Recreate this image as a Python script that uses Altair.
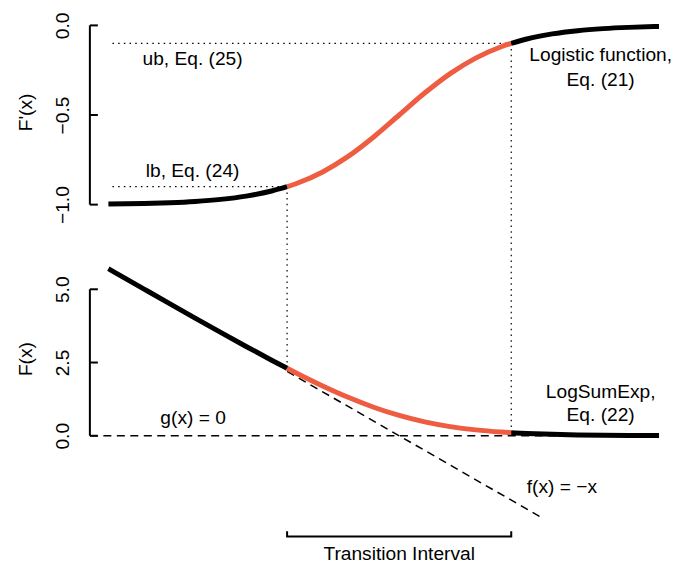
import altair as alt
import pandas as pd

# ---- data ----
X_LEFT = [-5.7, -5.0, -4.5, -4.0, -3.5, -3.0, -2.5, -2.197]
X_MID = [-2.197, -2.0, -1.5, -1.0, -0.5, 0.0, 0.5, 1.0, 1.5, 2.0, 2.197]
X_RIGHT = [2.197, 2.5, 3.0, 3.5, 4.0, 4.5, 5.0, 5.2]

DF_LEFT = [-0.9967, -0.9933, -0.9890, -0.9820, -0.9707, -0.9526, -0.9241, -0.9]
DF_MID = [-0.9, -0.8808, -0.8176, -0.7311, -0.6225, -0.5, -0.3775, -0.2689, -0.1824, -0.1192, -0.1]
DF_RIGHT = [-0.1, -0.0759, -0.0474, -0.0293, -0.0180, -0.0110, -0.0067, -0.0055]

F_LEFT = [5.703, 5.007, 4.511, 4.018, 3.530, 3.049, 2.579, 2.303]
F_MID = [2.303, 2.127, 1.701, 1.313, 0.974, 0.693, 0.474, 0.313, 0.201, 0.127, 0.105]
F_RIGHT = [0.105, 0.079, 0.049, 0.030, 0.018, 0.011, 0.007, 0.0055]

LB, UB = -0.9, -0.1
X_LB, X_UB = -2.197, 2.197
F_AT_LB, F_AT_UB = 2.303, 0.105
BOUND_LINE_START = -5.62

FX_X = [-2.197, 2.83]
FX_Y = [2.197, -2.83]
GX_X = [-6.063, 5.2]
GX_Y = [0.0, 0.0]

BRACKET_X = [-2.197, 2.197]
BRACKET_Y = -3.44
BRACKET_TOP = -3.26

TOP_TICKS = [-1.0, -0.5, 0.0]
BOT_TICKS = [0.0, 2.5, 5.0]

TOP_TEXT = ["ub, Eq. (25)", "lb, Eq. (24)", "Logistic function,", "Eq. (21)"]
TOP_TX = [-4.05, -4.05, 3.95, 3.95]
TOP_TY = [-0.19, -0.81, -0.168, -0.307]

BOT_TEXT = ["g(x) = 0", "LogSumExp,", "Eq. (22)", "f(x) = \u2212x", "Transition Interval"]
BOT_TX = [-4.04, 3.95, 3.95, 3.19, 0.0]
BOT_TY = [0.614, 1.50, 0.716, -1.74, -4.02]

# ---- styling ----
RED = "#EE5C42"
FONT = "Liberation Sans"
FS = 19.2
PX_PER_X = 51.09
W = 570
H_TOP = 240
H_BOT = 304
XDOM = [-6.063, -6.063 + W / PX_PER_X]
TOP_DOM = [-1.2535, 0.0836]
BOT_DOM = [-4.022, 6.339]

xs = alt.Scale(domain=XDOM, nice=False, zero=False)


def X(field="x"):
    return alt.X(f"{field}:Q", scale=xs, axis=None)


def make_y(field, dom, ticks, title, title_y):
    return alt.Y(
        f"{field}:Q",
        scale=alt.Scale(domain=dom, nice=False, zero=False),
        axis=alt.Axis(
            values=ticks, format=".1f", ticks=False, domain=False, grid=False,
            labelAngle=270, labelAlign="center", labelBaseline="middle",
            labelPadding=27, labelFont=FONT, labelFontSize=FS, labelColor="black",
            title=title, titleFont=FONT, titleFontSize=FS, titleFontWeight="normal",
            titleColor="black", titleAngle=270, titleAlign="center",
            titleBaseline="middle", titleX=-64, titleY=title_y,
        ),
    )


def panel(curves, dom, ticks, title, title_y, height, extra):
    Y = lambda f="y": make_y(f, dom, ticks, title, title_y)
    layers = []
    for e in extra:
        layers.append(e(Y))
    for xv, yv, col in curves:
        d = pd.DataFrame({"x": xv, "y": yv})
        layers.append(
            alt.Chart(d).mark_line(color=col, strokeWidth=5, interpolate="monotone", clip=True)
            .encode(x=X(), y=Y())
        )
    # axis line and inward ticks
    axd = pd.DataFrame({"y": [min(ticks)], "y2": [max(ticks)]})
    layers.append(
        alt.Chart(axd).mark_rule(color="black", strokeWidth=2)
        .encode(x=alt.value(0), y=Y(), y2="y2:Q")
    )
    tkd = pd.DataFrame({"y": ticks})
    layers.append(
        alt.Chart(tkd).mark_rule(color="black", strokeWidth=2)
        .encode(x=alt.value(0), x2=alt.value(8), y=Y())
    )
    return alt.layer(*layers).properties(width=W, height=height)


DOT = [1.5, 4.2]
DASH = [8, 5.5]


def top_extra_h(Y):
    d = pd.DataFrame({"x": [BOUND_LINE_START, BOUND_LINE_START], "x2": [X_LB, X_UB], "y": [LB, UB]})
    return alt.Chart(d).mark_rule(color="black", strokeWidth=1.2, strokeDash=DOT).encode(
        x=X(), x2="x2:Q", y=Y())


def top_extra_v(Y):
    d = pd.DataFrame({"x": [X_LB, X_UB], "y": [LB, UB]})
    return alt.Chart(d).mark_rule(color="black", strokeWidth=1.2, strokeDash=DOT).encode(
        x=X(), y=Y(), y2=alt.value(H_TOP))


def top_text(Y):
    d = pd.DataFrame({"x": TOP_TX, "y": TOP_TY, "t": TOP_TEXT})
    return alt.Chart(d).mark_text(font=FONT, fontSize=FS, color="black", align="center",
                                  baseline="middle").encode(x=X(), y=Y(), text="t:N")


def bot_extra_v(Y):
    d = pd.DataFrame({"x": [X_LB, X_UB], "y": [F_AT_LB, F_AT_UB]})
    return alt.Chart(d).mark_rule(color="black", strokeWidth=1.2, strokeDash=DOT).encode(
        x=X(), y=Y(), y2=alt.value(0))


def bot_dash_g(Y):
    d = pd.DataFrame({"x": GX_X, "y": GX_Y})
    return alt.Chart(d).mark_line(color="black", strokeWidth=1.5, strokeDash=DASH, clip=True).encode(
        x=X(), y=Y())


def bot_dash_f(Y):
    d = pd.DataFrame({"x": FX_X, "y": FX_Y})
    return alt.Chart(d).mark_line(color="black", strokeWidth=1.5, strokeDash=DASH).encode(
        x=X(), y=Y())


def bot_bracket(Y):
    d = pd.DataFrame({
        "x": [BRACKET_X[0], BRACKET_X[0], BRACKET_X[1], BRACKET_X[1]],
        "y": [BRACKET_TOP, BRACKET_Y, BRACKET_Y, BRACKET_TOP],
        "o": [0, 1, 2, 3],
    })
    return alt.Chart(d).mark_line(color="black", strokeWidth=2, strokeJoin="miter").encode(
        x=X(), y=Y(), order="o:Q")


def bot_text(Y):
    d = pd.DataFrame({"x": BOT_TX, "y": BOT_TY, "t": BOT_TEXT})
    return alt.Chart(d).mark_text(font=FONT, fontSize=FS, color="black", align="center",
                                  baseline="middle").encode(x=X(), y=Y(), text="t:N")


top = panel(
    [(X_LEFT, DF_LEFT, "black"), (X_MID, DF_MID, RED), (X_RIGHT, DF_RIGHT, "black")],
    TOP_DOM, TOP_TICKS, "F'(x)", 101.7, H_TOP,
    [top_extra_h, top_extra_v, top_text],
)

bot = panel(
    [(X_LEFT, F_LEFT, "black"), (X_MID, F_MID, RED), (X_RIGHT, F_RIGHT, "black")],
    BOT_DOM, BOT_TICKS, "F(x)", 108.7, H_BOT,
    [bot_dash_g, bot_dash_f, bot_extra_v, bot_bracket, bot_text],
)

chart = (
    alt.vconcat(top, bot, spacing=0, bounds="flush")
    .properties(padding={"left": 9, "top": 2, "right": 0, "bottom": 0}, background="white")
    .configure_view(stroke=None)
)

chart.save("out.html", embed_options={"renderer": "svg", "actions": False})
